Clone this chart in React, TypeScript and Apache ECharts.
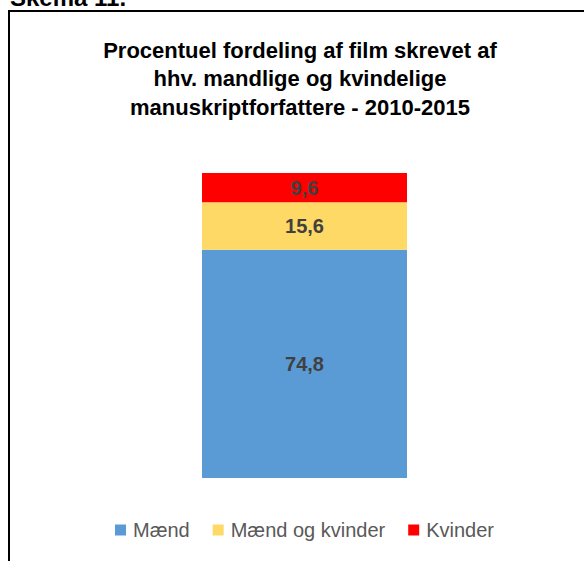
import React, { useEffect, useRef } from "react";
import * as echarts from "echarts";

const categories = ["2010-2015"];
const seriesNames = ["Mænd", "Mænd og kvinder", "Kvinder"];
const maendValues = [74.8];
const begge = [15.6];
const kvinderValues = [9.6];
const colors = ["#5B9BD5", "#FFD966", "#FF0000"];

const FONT = "'Liberation Sans', Arial, sans-serif";

export default function App() {
  const ref = useRef<HTMLDivElement>(null);
  useEffect(() => {
    if (!ref.current) return;
    const chart = echarts.init(ref.current, undefined, { renderer: "svg" });
    const label = {
      show: true,
      position: "inside",
      color: "#404040",
      fontFamily: FONT,
      fontWeight: "bold",
      fontSize: 20,
      formatter: (p: any) => String(p.value).replace(".", ","),
    };
    const dataSets = [maendValues, begge, kvinderValues];
    chart.setOption({
      animation: false,
      backgroundColor: "#ffffff",
      title: {
        text: "Procentuel fordeling af film skrevet af\nhhv. mandlige og kvindelige\nmanuskriptforfattere - 2010-2015",
        left: 295,
        top: 31,
        textAlign: "center",
        textStyle: {
          fontFamily: FONT,
          fontWeight: "bold",
          fontSize: 22,
          lineHeight: 28.5,
          color: "#000000",
        },
      },
      graphic: [
        {
          type: "rect",
          shape: { x: 9, y: 11, width: 700, height: 700 },
          style: { fill: "none", stroke: "#000000", lineWidth: 2 },
          silent: true,
        },
        {
          type: "text",
          x: 10,
          y: -2.3,
          style: {
            text: "Skema 11.",
            fontFamily: FONT,
            fontWeight: "bold",
            fontSize: 24,
            fill: "#000000",
            verticalAlign: "middle",
            align: "left",
          },
          silent: true,
        },
      ],
      legend: {
        data: seriesNames,
        left: 115,
        top: 520,
        padding: 0,
        itemGap: 23,
        itemWidth: 11,
        itemHeight: 11,
        icon: "rect",
        textStyle: {
          fontFamily: FONT,
          fontSize: 20,
          color: "#595959",
          padding: [0, 0, 0, 2],
        },
      },
      grid: { left: 202, top: 173, width: 205, height: 305 },
      xAxis: {
        type: "category",
        data: categories,
        show: false,
      },
      yAxis: {
        type: "value",
        min: 0,
        max: 100,
        show: false,
      },
      series: seriesNames.map((name, i) => ({
        name,
        type: "bar",
        stack: "total",
        barWidth: "100%",
        data: dataSets[i],
        itemStyle: { color: colors[i] },
        label,
      })),
    });
    return () => chart.dispose();
  }, []);
  return (
    <div
      ref={ref}
      style={{ position: "absolute", left: 0, top: 0, width: 584, height: 561 }}
    />
  );
}
